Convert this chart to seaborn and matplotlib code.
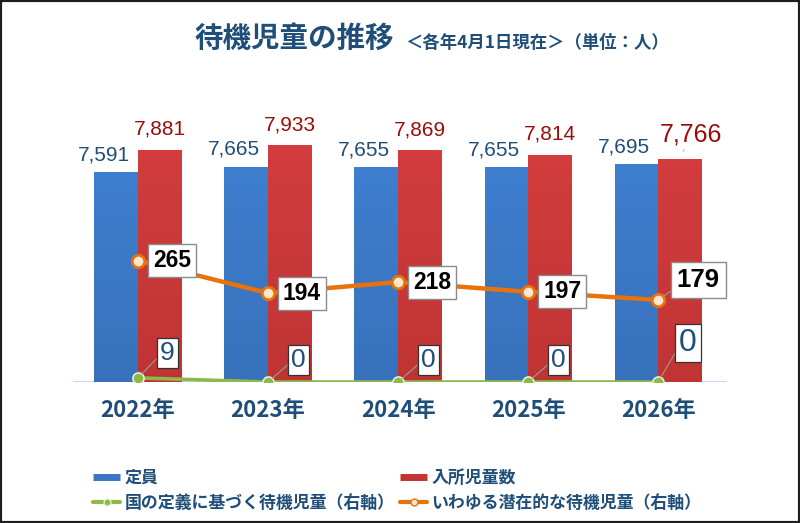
import numpy as np
import pandas as pd
import seaborn as sns
import matplotlib.pyplot as plt
from matplotlib.lines import Line2D
from matplotlib.patches import Rectangle
from matplotlib.colors import LinearSegmentedColormap

years = ['2022年', '2023年', '2024年', '2025年', '2026年']
capacity = [7591, 7665, 7655, 7655, 7695]
enrolled = [7881, 7933, 7869, 7814, 7766]
waiting_official = [9, 0, 0, 0, 0]
waiting_potential = [265, 194, 218, 197, 179]

bar_names = ['定員', '入所児童数']
line_names = ['国の定義に基づく待機児童（右軸）', 'いわゆる潜在的な待機児童（右軸）']

NAVY = '#1F4E79'
BLUE = '#3A76C4'
RED = '#C53333'
RED_TXT = '#9A0C0C'
ORANGE = '#E8720C'
GREEN = '#8DB84A'
JP = ['Noto Sans CJK JP', 'DejaVu Sans']
NUM = ['Liberation Sans', 'DejaVu Sans']

sns.set_style('white')
plt.rcParams['font.family'] = JP

df = pd.DataFrame({
    '年': years * 2,
    '人数': capacity + enrolled,
    '区分': [bar_names[0]] * len(years) + [bar_names[1]] * len(years),
})

fig = plt.figure(figsize=(8, 5.23), dpi=100)
ax = fig.add_axes([0.09125, 0.2696, 0.8175, 0.6176])

sns.barplot(data=df, x='年', y='人数', hue='区分', palette=[BLUE, RED],
            width=0.67, ax=ax, legend=False, saturation=1)

# vertical gradient on the bars
cmaps = {
    BLUE: LinearSegmentedColormap.from_list('b', ['#2C5B98', '#3E7ECE']),
    RED: LinearSegmentedColormap.from_list('r', ['#A22626', '#D23C3C']),
}
grad = np.linspace(0, 1, 64).reshape(-1, 1)
for k, p in enumerate(ax.patches):
    x0, y0 = p.get_x(), p.get_y()
    w, h = p.get_width(), p.get_height()
    cm = cmaps[BLUE] if k < len(years) else cmaps[RED]
    ax.imshow(grad, extent=[x0, x0 + w, y0, y0 + h], origin='lower',
              aspect='auto', cmap=cm, zorder=2)

ax.set_xlim(-0.5, 4.53)
ax.set_ylim(4935, 9037)
ax.axhline(4935, color='#C9DAEE', lw=1.5, zorder=1)

# bar value labels
for i in range(len(years)):
    ax.annotate(f'{capacity[i]:,}', xy=(i - 0.1675, capacity[i]),
                xytext=(-9, 13), textcoords='offset points', ha='center', va='center',
                fontsize=15, color=NAVY, family=NUM, zorder=5)
    if i < len(years) - 1:
        ax.annotate(f'{enrolled[i]:,}', xy=(i + 0.1675, enrolled[i]),
                    xytext=(0, 15), textcoords='offset points', ha='center', va='center',
                    fontsize=15, color=RED_TXT, family=NUM, zorder=5)
    else:
        ax.annotate(f'{enrolled[i]:,}', xy=(i + 0.1675, enrolled[i]),
                    xytext=(8, 18), textcoords='offset points', ha='center', va='center',
                    fontsize=18, color=RED_TXT, family=NUM, zorder=5,
                    arrowprops=dict(arrowstyle='-', color='#8FB3DD', lw=0.7,
                                    shrinkA=0, shrinkB=6))

ax.set_xlabel('')
ax.set_ylabel('')
ax.set_yticks([])
ax.tick_params(axis='x', length=0, pad=12)
for t in ax.get_xticklabels():
    t.set_fontsize(16)
    t.set_fontweight('bold')
    t.set_color(NAVY)
sns.despine(ax=ax, left=True, bottom=True)

# secondary axis lines
ax2 = ax.twinx()
xs = np.arange(len(years))
sns.lineplot(x=xs, y=waiting_official, ax=ax2, color=GREEN, lw=2.6, marker='o',
             markersize=8, markerfacecolor=GREEN, markeredgecolor='#E4F0D0',
             markeredgewidth=1.2, zorder=4)
sns.lineplot(x=xs, y=waiting_potential, ax=ax2, color=ORANGE, lw=3.2, marker='o',
             markersize=9, markerfacecolor='#FCE7CF', markeredgecolor=ORANGE,
             markeredgewidth=2, zorder=4)
ax2.set_ylim(0, 705)
ax2.set_xlim(-0.5, 4.53)
ax2.set_yticks([])
for s in ax2.spines.values():
    s.set_visible(False)

box = dict(boxstyle='square,pad=0.22', fc='white', ec='#8A8A8A', lw=1)
for i, v in enumerate(waiting_potential):
    if i < len(years) - 1:
        ax2.annotate(str(v), xy=(i, v), xytext=(24.5, 0), textcoords='offset points',
                     ha='center', va='center', fontsize=16.5, fontweight='bold',
                     family=NUM, color='black', bbox=box, zorder=6)
    else:
        ax2.annotate(str(v), xy=(i, v), xytext=(29, 14.5), textcoords='offset points',
                     ha='center', va='center', fontsize=18.5, fontweight='bold',
                     family=NUM, color='black', bbox=box, zorder=6,
                     arrowprops=dict(arrowstyle='-', color='#999999', lw=0.8,
                                     relpos=(0, 0.2), shrinkA=0, shrinkB=4))

gbox = dict(boxstyle='square,pad=0.12', fc='white', ec='#333333', lw=0.9)
g_off = [(21, 18), (21.6, 16), (21.6, 16), (21.6, 16), (21.6, 28)]
g_size = [19, 19, 19, 19, 23]
for i, v in enumerate(waiting_official):
    ax2.annotate(str(v), xy=(i, v), xytext=g_off[i], textcoords='offset points',
                 ha='center', va='center', fontsize=g_size[i], family=NUM,
                 color=NAVY, bbox=gbox, zorder=6,
                 arrowprops=dict(arrowstyle='-', color='#9A9A9A', lw=0.8,
                                 relpos=(0, 0.4), shrinkA=0, shrinkB=4))

# title
fig.text(194 / 800, 1 - 39 / 523, '待機児童の推移', ha='left', va='center',
         fontsize=20.5, fontweight='bold', color=NAVY)
fig.text(405 / 800, 1 - 43 / 523, '＜各年4月1日現在＞（単位：人）', ha='left', va='center',
         fontsize=12.5, fontweight='bold', color=NAVY)

# legend
handles = [
    Line2D([0], [0], color=BLUE, lw=5, solid_capstyle='butt'),
    Line2D([0], [0], color=GREEN, lw=3, marker='o', markersize=5,
           markerfacecolor=GREEN, markeredgecolor='#E4F0D0'),
    Line2D([0], [0], color=RED, lw=5, solid_capstyle='butt'),
    Line2D([0], [0], color=ORANGE, lw=3, marker='o', markersize=5,
           markerfacecolor='#FCE7CF', markeredgecolor=ORANGE),
]
labels = [bar_names[0], line_names[0], bar_names[1], line_names[1]]
leg = fig.legend(handles, labels, ncol=2, loc='upper left',
                 bbox_to_anchor=(93 / 800, 1 - 469 / 523), frameon=False,
                 prop=dict(family=JP, size=12.2, weight='bold'), labelcolor=NAVY,
                 handlelength=1.6, handletextpad=0.25, columnspacing=0.35,
                 labelspacing=0.42, borderpad=0, borderaxespad=0)

# outer frame
fig.patches.append(Rectangle((0, 0), 1, 1, transform=fig.transFigure, fill=False,
                             ec='#1E1E1E', lw=3, zorder=10))

fig.savefig('out.png', dpi=100, facecolor='white')
